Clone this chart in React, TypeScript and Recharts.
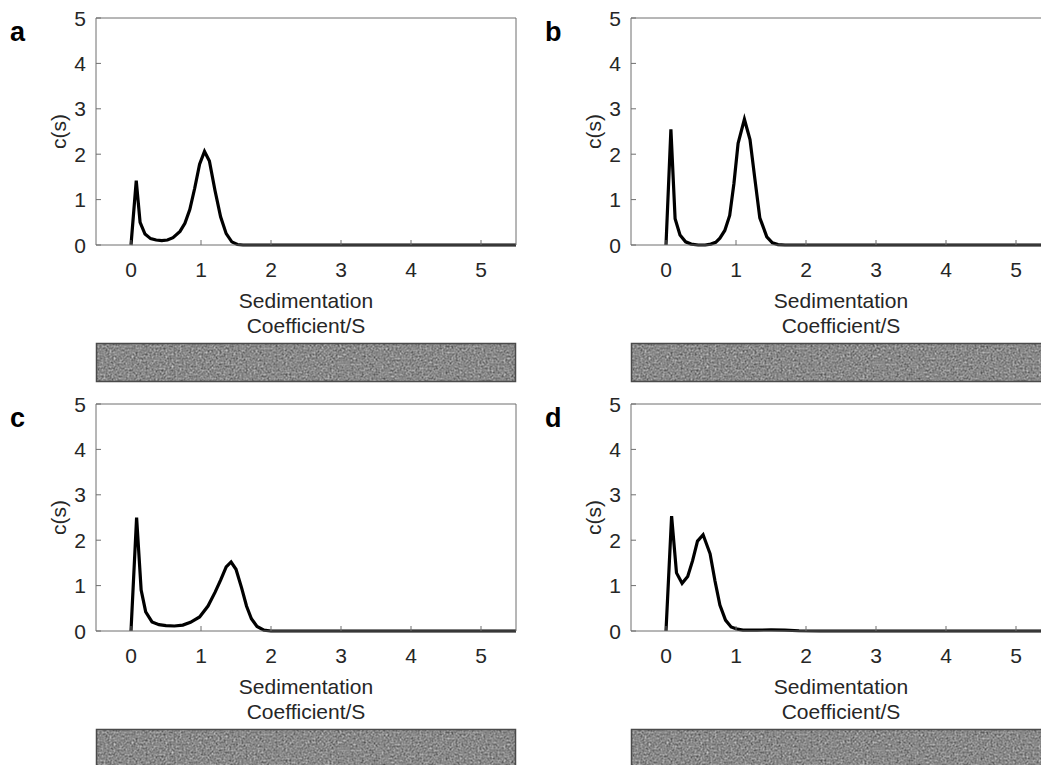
import { LineChart, Line, XAxis, YAxis } from "recharts";

const FONT = "'Liberation Sans', Arial, Helvetica, sans-serif";
const AXIS = "#6f6f6f";
const TEXT = "#262626";

const xTicks = [0, 1, 2, 3, 4, 5];
const yTicks = [0, 1, 2, 3, 4, 5];

// [s, c(s)]
const panelA: [number, number][] = [
  [0, 0], [0.075, 1.42], [0.13, 0.5], [0.2, 0.24], [0.28, 0.14], [0.36, 0.11],
  [0.44, 0.095], [0.52, 0.11], [0.6, 0.16], [0.7, 0.3], [0.77, 0.48], [0.84, 0.78],
  [0.91, 1.25], [0.98, 1.78], [1.05, 2.06], [1.12, 1.85], [1.2, 1.2], [1.28, 0.62],
  [1.36, 0.25], [1.44, 0.07], [1.52, 0.01], [1.6, 0], [2.5, 0], [3.5, 0], [4.5, 0], [5.5, 0],
];

const panelB: [number, number][] = [
  [0, 0], [0.07, 2.55], [0.13, 0.58], [0.2, 0.22], [0.28, 0.07], [0.36, 0.02],
  [0.46, 0], [0.56, 0], [0.64, 0.02], [0.71, 0.06], [0.77, 0.15], [0.84, 0.32],
  [0.91, 0.65], [0.97, 1.35], [1.03, 2.24], [1.12, 2.77], [1.2, 2.32], [1.27, 1.45],
  [1.34, 0.6], [1.44, 0.18], [1.52, 0.05], [1.6, 0.01], [1.7, 0], [2.5, 0], [3.5, 0], [4.5, 0], [5.5, 0],
];

const panelC: [number, number][] = [
  [0, 0], [0.08, 2.5], [0.145, 0.9], [0.21, 0.42], [0.3, 0.2], [0.4, 0.14],
  [0.5, 0.12], [0.62, 0.11], [0.74, 0.13], [0.85, 0.19], [0.98, 0.31], [1.1, 0.55],
  [1.2, 0.85], [1.28, 1.12], [1.36, 1.41], [1.43, 1.52], [1.5, 1.36], [1.58, 0.95],
  [1.65, 0.55], [1.72, 0.27], [1.8, 0.1], [1.9, 0.02], [2.0, 0], [2.5, 0], [3.5, 0], [4.5, 0], [5.5, 0],
];

const panelD: [number, number][] = [
  [0, 0], [0.08, 2.53], [0.15, 1.28], [0.23, 1.05], [0.31, 1.2], [0.38, 1.55],
  [0.45, 1.98], [0.53, 2.12], [0.63, 1.7], [0.7, 1.1], [0.77, 0.57], [0.85, 0.24],
  [0.93, 0.09], [1.02, 0.04], [1.1, 0.02], [1.3, 0.02], [1.5, 0.025], [1.7, 0.02],
  [1.9, 0.005], [2.2, 0], [3.5, 0], [4.5, 0], [5.5, 0],
];

const panels = [
  { letter: "a", points: panelA, left: 0, top: 0 },
  { letter: "b", points: panelB, left: 535, top: 0 },
  { letter: "c", points: panelC, left: 0, top: 386 },
  { letter: "d", points: panelD, left: 535, top: 386 },
];

const W = 560;
const H = 360;
const YW = 40;
const XH = 30;

function XTick(props: any) {
  const { x, y, payload } = props;
  return (
    <text x={x} y={y} dy="0.71em" textAnchor="middle" fill={TEXT} fontSize={21} fontFamily={FONT}>
      {payload.value}
    </text>
  );
}

function YTick(props: any) {
  const { x, y, payload } = props;
  return (
    <text x={x} y={y} dy="0.36em" textAnchor="end" fill={TEXT} fontSize={21} fontFamily={FONT}>
      {payload.value}
    </text>
  );
}

function XLabel(props: any) {
  const vb = props.viewBox;
  const cx = vb.x + vb.width / 2;
  return (
    <g>
      <text x={cx} y={vb.y + 63} textAnchor="middle" fill={TEXT} fontSize={21} fontFamily={FONT}>
        Sedimentation
      </text>
      <text x={cx} y={vb.y + 88} textAnchor="middle" fill={TEXT} fontSize={21} fontFamily={FONT}>
        Coefficient/S
      </text>
    </g>
  );
}

function YLabel(props: any) {
  const vb = props.viewBox;
  const cx = vb.x + vb.width - 38;
  const cy = vb.y + vb.height / 2;
  return (
    <text
      x={cx}
      y={cy}
      transform={`rotate(-90, ${cx}, ${cy})`}
      textAnchor="middle"
      dominantBaseline="central"
      fill={TEXT}
      fontSize={21}
      fontFamily={FONT}
    >
      c(s)
    </text>
  );
}

function Panel({ letter, points, left, top }: (typeof panels)[number]) {
  const data = points.map(([s, c]) => ({ s, c }));
  return (
    <div style={{ position: "absolute", left, top, width: W, height: H }}>
      <LineChart
        width={W}
        height={H}
        data={data}
        margin={{ top: 17, left: 96 - YW, right: 43, bottom: H - 245 - XH }}
      >
        <XAxis
          xAxisId="bottom"
          dataKey="s"
          type="number"
          domain={[-0.5, 5.5]}
          ticks={xTicks}
          height={XH}
          tickSize={-5}
          tickMargin={22}
          tick={<XTick />}
          axisLine={{ stroke: AXIS }}
          tickLine={{ stroke: AXIS }}
          label={XLabel}
        />
        <XAxis
          xAxisId="top"
          orientation="top"
          dataKey="s"
          type="number"
          domain={[-0.5, 5.5]}
          ticks={xTicks}
          height={1}
          tickSize={-5}
          tick={false}
          axisLine={{ stroke: AXIS }}
          tickLine={{ stroke: AXIS }}
        />
        <YAxis
          yAxisId="left"
          type="number"
          domain={[0, 5]}
          ticks={yTicks}
          width={YW}
          tickSize={-5}
          tickMargin={15}
          tick={<YTick />}
          axisLine={{ stroke: AXIS }}
          tickLine={{ stroke: AXIS }}
          label={YLabel}
        />
        <YAxis
          yAxisId="right"
          orientation="right"
          type="number"
          domain={[0, 5]}
          ticks={yTicks}
          width={1}
          tickSize={-5}
          tick={false}
          axisLine={{ stroke: AXIS }}
          tickLine={{ stroke: AXIS }}
        />
        <Line
          xAxisId="top"
          yAxisId="right"
          dataKey="c"
          stroke="none"
          dot={false}
          isAnimationActive={false}
        />
        <Line
          xAxisId="bottom"
          yAxisId="left"
          dataKey="c"
          type="linear"
          stroke="#000"
          strokeWidth={3.2}
          dot={false}
          isAnimationActive={false}
        />
      </LineChart>
      <svg
        width={W}
        height={H + 30}
        style={{ position: "absolute", left: 0, top: 0, pointerEvents: "none" }}
      >
        <text x={10} y={41} fontSize={27} fontWeight="bold" fontFamily={FONT} fill="#000">
          {letter}
        </text>
        <rect x={96} y={343} width={420} height={39} fill="#808080" filter="url(#noise)" />
        <rect x={96.5} y={343.5} width={419} height={38} fill="none" stroke="#4a4a4a" strokeWidth={1.5} />
      </svg>
    </div>
  );
}

export default function App() {
  return (
    <div
      style={{
        position: "absolute",
        left: 0,
        top: 0,
        width: 1041,
        height: 765,
        overflow: "hidden",
        background: "#fff",
      }}
    >
      <svg width={0} height={0} style={{ position: "absolute" }}>
        <defs>
          <filter
            id="noise"
            x="0"
            y="0"
            width="100%"
            height="100%"
            colorInterpolationFilters="sRGB"
          >
            <feTurbulence type="fractalNoise" baseFrequency="0.5" numOctaves={3} seed={7} result="t" />
            <feColorMatrix
              in="t"
              type="matrix"
              values="0.33 0.33 0.33 0 0  0.33 0.33 0.33 0 0  0.33 0.33 0.33 0 0  0 0 0 0 1"
              result="g"
            />
            <feComponentTransfer in="g">
              <feFuncR type="linear" slope={1.0} intercept={0.04} />
              <feFuncG type="linear" slope={1.0} intercept={0.04} />
              <feFuncB type="linear" slope={1.0} intercept={0.04} />
              <feFuncA type="linear" slope={0} intercept={1} />
            </feComponentTransfer>
          </filter>
        </defs>
      </svg>
      {panels.map((p) => (
        <Panel key={p.letter} {...p} />
      ))}
    </div>
  );
}
